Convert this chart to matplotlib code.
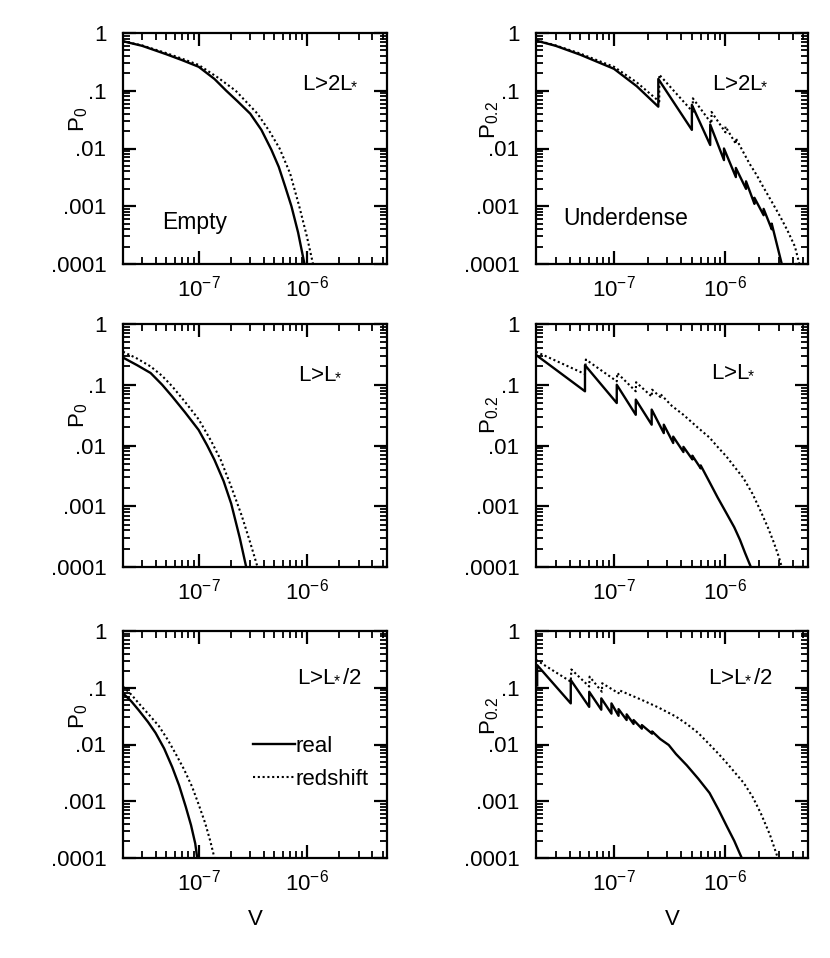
import matplotlib
matplotlib.use('Agg')
import matplotlib.pyplot as plt
from matplotlib.ticker import LogLocator, NullFormatter
import numpy as np

plt.rcParams['font.family'] = ['Liberation Sans', 'DejaVu Sans']
plt.rcParams['mathtext.fontset'] = 'custom'
plt.rcParams['mathtext.rm'] = 'Liberation Sans'
plt.rcParams['mathtext.it'] = 'Liberation Sans:italic'
plt.rcParams['mathtext.bf'] = 'Liberation Sans:bold'

# ---- данные ----
# Empty, L>2L*
v_e1_real = [2e-8, 3e-8, 5e-8, 7e-8, 1e-7, 1.4e-7, 1.8e-7, 2.3e-7, 3e-7, 3.8e-7, 4.7e-7,
             5.5e-7, 6.3e-7, 7.2e-7, 8.3e-7, 9.5e-7]
p_e1_real = [0.72, 0.6, 0.43, 0.34, 0.26, 0.16, 0.1, 0.065, 0.04, 0.021, 0.0095,
             0.0048, 0.0022, 0.001, 0.00035, 0.0001]
v_e1_red = [2e-8, 3e-8, 5e-8, 7e-8, 1e-7, 1.5e-7, 2.2e-7, 3.5e-7, 4.5e-7, 5.6e-7, 7e-7,
            8.5e-7, 1e-6, 1.14e-6]
p_e1_red = [0.72, 0.61, 0.45, 0.36, 0.28, 0.17, 0.1, 0.04, 0.02, 0.01, 0.0037,
            0.001, 0.0003, 0.0001]

# Empty, L>L*
v_e2_real = [2e-8, 2.7e-8, 3.6e-8, 4.6e-8, 5.7e-8, 7.5e-8, 1e-7, 1.2e-7, 1.4e-7, 1.7e-7,
             2e-7, 2.4e-7, 2.75e-7]
p_e2_real = [0.28, 0.21, 0.156, 0.1, 0.064, 0.035, 0.018, 0.01, 0.0058, 0.0026,
             0.0011, 0.0003, 0.0001]
v_e2_red = [2e-8, 2.7e-8, 3.6e-8, 4.6e-8, 5.7e-8, 7.5e-8, 1e-7, 1.3e-7, 1.6e-7, 2e-7,
            2.5e-7, 3e-7, 3.5e-7]
p_e2_red = [0.35, 0.27, 0.2, 0.14, 0.094, 0.052, 0.027, 0.012, 0.0058, 0.0021,
            0.0007, 0.00025, 0.0001]

# Empty, L>L*/2
v_e3_real = [2e-8, 2.4e-8, 2.8e-8, 3.4e-8, 4e-8, 4.8e-8, 5.7e-8, 6.6e-8, 7.6e-8, 8.5e-8,
             9.3e-8, 9.7e-8]
p_e3_real = [0.08, 0.057, 0.04, 0.025, 0.016, 0.0085, 0.004, 0.0019, 0.0008, 0.00038,
             0.00018, 0.0001]
v_e3_red = [2e-8, 2.4e-8, 2.8e-8, 3.5e-8, 4.3e-8, 5.2e-8, 6.1e-8, 7.3e-8, 8.7e-8, 1e-7,
            1.15e-7, 1.28e-7, 1.4e-7]
p_e3_red = [0.105, 0.075, 0.053, 0.033, 0.021, 0.012, 0.007, 0.0037, 0.0018, 0.00088,
            0.00041, 0.0002, 0.0001]

# Underdense, L>2L*
v_u1_real = [2e-8, 3e-8, 5e-8, 7e-8, 1e-7, 1.6e-7, 2.5e-7, 2.5e-7, 5.0e-7, 5.0e-7, 7.3e-7, 7.3e-7,
             9.7e-7, 9.7e-7, 1.24e-6, 1.24e-6, 1.53e-6, 1.53e-6, 1.82e-6, 1.82e-6,
             2.2e-6, 2.2e-6, 2.6e-6, 2.6e-6, 3.2e-6]
p_u1_real = [0.74, 0.6, 0.42, 0.32, 0.24, 0.12, 0.053, 0.16, 0.021, 0.057, 0.0115, 0.026,
             0.0063, 0.010, 0.0032, 0.0046, 0.002, 0.0027, 0.0011, 0.0014,
             0.0007, 0.0009, 0.0004, 0.0005, 0.0001]
v_u1_red = [2e-8, 3e-8, 5e-8, 7e-8, 1e-7, 1.6e-7, 2.55e-7, 2.55e-7, 5.1e-7, 5.1e-7, 7.5e-7, 7.5e-7,
            1e-6, 1e-6, 1.24e-6, 1.24e-6, 1.64e-6, 1.9e-6, 2.17e-6, 2.6e-6, 3.1e-6, 3.6e-6,
            4.2e-6, 4.6e-6]
p_u1_red = [0.75, 0.61, 0.44, 0.34, 0.26, 0.14, 0.065, 0.19, 0.043, 0.074, 0.027, 0.043,
            0.019, 0.024, 0.012, 0.015, 0.0055, 0.0035, 0.0022, 0.0012, 0.00066, 0.00038,
            0.0002, 0.0001]

# Underdense, L>L*
v_u2_real = [2e-8, 5.5e-8, 5.5e-8, 1.06e-7, 1.06e-7, 1.57e-7, 1.57e-7, 2.18e-7, 2.18e-7,
             2.8e-7, 2.8e-7, 3.4e-7, 3.4e-7, 4.2e-7, 4.2e-7, 5.05e-7, 5.05e-7, 6e-7, 6e-7,
             7.2e-7, 8.5e-7, 1.02e-6, 1.2e-6, 1.35e-6, 1.5e-6, 1.69e-6]
p_u2_real = [0.31, 0.078, 0.21, 0.05, 0.10, 0.032, 0.057, 0.022, 0.039,
             0.016, 0.022, 0.011, 0.014, 0.0078, 0.0095, 0.0059, 0.0068, 0.0042, 0.0047,
             0.0025, 0.0014, 0.00077, 0.00045, 0.00028, 0.00017, 0.0001]
v_u2_red = [2e-8, 5.5e-8, 5.6e-8, 1.06e-7, 1.07e-7, 1.57e-7, 1.58e-7, 2.18e-7, 2.2e-7,
            2.6e-7, 2.62e-7, 3.3e-7, 4.2e-7, 5.6e-7, 7.2e-7, 8.5e-7, 1.02e-6, 1.2e-6,
            1.45e-6, 1.75e-6, 2.04e-6, 2.4e-6, 2.7e-6, 3.0e-6, 3.2e-6]
p_u2_red = [0.35, 0.15, 0.26, 0.114, 0.156, 0.078, 0.11, 0.064, 0.083,
            0.063, 0.07, 0.045, 0.032, 0.02, 0.0135, 0.0095, 0.0066, 0.0045,
            0.0029, 0.0016, 0.00088, 0.00045, 0.00026, 0.00015, 0.0001]

# Underdense, L>L*/2
v_u3_real = [2.05e-8, 2.05e-8, 4.1e-8, 4.1e-8, 6.0e-8, 6.0e-8, 7.7e-8, 7.7e-8, 9.5e-8, 9.5e-8,
             1.1e-7, 1.1e-7, 1.3e-7, 1.3e-7, 1.5e-7, 1.5e-7, 1.78e-7, 1.78e-7, 2.2e-7, 2.2e-7,
             2.6e-7, 3.1e-7, 3.6e-7, 4.5e-7, 5.7e-7, 7.2e-7, 8.7e-7, 1.03e-6, 1.2e-6, 1.4e-6]
p_u3_real = [0.11, 0.25, 0.053, 0.137, 0.046, 0.085, 0.041, 0.065, 0.035, 0.053,
             0.032, 0.042, 0.027, 0.034, 0.023, 0.027, 0.019, 0.022, 0.0155, 0.017,
             0.0125, 0.0098, 0.0068, 0.0043, 0.0025, 0.0014, 0.0007, 0.00036, 0.0002, 0.0001]
v_u3_red = [2e-8, 4.1e-8, 4.15e-8, 6.0e-8, 6.05e-8, 7.8e-8, 7.85e-8, 1.1e-7, 1.12e-7, 1.78e-7,
            2.5e-7, 3.6e-7, 4.5e-7, 5.7e-7, 7.2e-7, 8.7e-7, 1.03e-6, 1.25e-6, 1.46e-6,
            1.75e-6, 2.07e-6, 2.5e-6, 2.95e-6]
p_u3_red = [0.31, 0.128, 0.21, 0.105, 0.157, 0.085, 0.12, 0.08, 0.09, 0.061,
            0.045, 0.031, 0.023, 0.016, 0.01, 0.0068, 0.0047, 0.003, 0.0021,
            0.0012, 0.00062, 0.00026, 0.0001]

panel_labels = [r'L>2L$_{\!\!*}$', r'L>L$_{\!\!*}$', r'L>L$_{\!\!*}$/2']
y_ticks = [1e-4, 1e-3, 1e-2, 1e-1, 1]
y_tick_labels = ['.0001', '.001', '.01', '.1', '1']
x_ticks = [1e-7, 1e-6]
x_tick_labels = [r'$10^{-7}$', r'$10^{-6}$']

left_data = [(v_e1_real, p_e1_real, v_e1_red, p_e1_red),
             (v_e2_real, p_e2_real, v_e2_red, p_e2_red),
             (v_e3_real, p_e3_real, v_e3_red, p_e3_red)]
right_data = [(v_u1_real, p_u1_real, v_u1_red, p_u1_red),
              (v_u2_real, p_u2_real, v_u2_red, p_u2_red),
              (v_u3_real, p_u3_real, v_u3_red, p_u3_red)]

W, H = 830, 958
# положение осей в пикселях (верх, низ) для трёх рядов
rows_px = [(33, 264), (324, 567), (631, 858)]
cols_px = [(123, 387), (536, 808)]


def setup_axes(ax):
    ax.set_xscale('log')
    ax.set_yscale('log')
    ax.set_xlim(2e-8, 5.5e-6)
    ax.set_ylim(1e-4, 1)
    ax.set_xticks(x_ticks)
    ax.set_xticklabels(x_tick_labels)
    ax.set_yticks(y_ticks)
    ax.set_yticklabels(y_tick_labels)
    ax.xaxis.set_minor_locator(LogLocator(base=10, subs=np.arange(2, 10), numticks=20))
    ax.yaxis.set_minor_locator(LogLocator(base=10, subs=np.arange(2, 10), numticks=20))
    ax.xaxis.set_minor_formatter(NullFormatter())
    ax.yaxis.set_minor_formatter(NullFormatter())
    ax.tick_params(which='both', direction='in', top=True, right=True, labelsize=16)
    ax.tick_params(which='major', length=9.5, width=1.6)
    ax.tick_params(which='minor', length=5, width=1.3)
    ax.tick_params(axis='x', which='major', pad=8)
    ax.tick_params(axis='y', which='major', pad=12)
    for sp in ax.spines.values():
        sp.set_linewidth(1.6)


def create_plots():
    fig = plt.figure(figsize=(W / 100, H / 100), dpi=100)
    axes = []
    for r, (top, bot) in enumerate(rows_px):
        for c, (lft, rgt) in enumerate(cols_px):
            rect = [lft / W, 1 - bot / H, (rgt - lft) / W, (bot - top) / H]
            ax = fig.add_axes(rect)
            setup_axes(ax)
            data = left_data[r] if c == 0 else right_data[r]
            v_real, p_real, v_red, p_red = data
            ax.plot(v_real, p_real, color='black', linewidth=1.7, label='real')
            ax.plot(v_red, p_red, color='black', linewidth=1.5,
                    linestyle=(0, (1, 1.3)), label='redshift')
            ax.set_ylabel(r'P$_0$' if c == 0 else r'P$_{0.2}$', fontsize=16)
            # подпись оси Y стоит между метками .1 и .01, как в оригинале
            ax.yaxis.set_label_coords(-0.125 if c == 0 else -0.13, 0.625)
            if r == 2:
                ax.set_xlabel('V', fontsize=16, labelpad=10)
            axes.append(ax)

    # подписи панелей
    lab_pos = [(0.89, 0.79), (0.855, 0.79), (0.83, 0.80), (0.805, 0.81), (0.905, 0.806), (0.87, 0.806)]
    for i, ax in enumerate(axes):
        x, y = lab_pos[i]
        ax.text(x, y, panel_labels[i // 2], transform=ax.transAxes,
                ha='right', va='center', fontsize=16)

    axes[0].text(0.15, 0.18, 'Empty', transform=axes[0].transAxes,
                 ha='left', va='center', fontsize=16.5)
    axes[1].text(0.10, 0.195, 'Underdense', transform=axes[1].transAxes,
                 ha='left', va='center', fontsize=16.5)

    axes[4].legend(loc='center left', bbox_to_anchor=(0.45, 0.42), frameon=False,
                   fontsize=16, handlelength=1.9, handletextpad=0.0,
                   labelspacing=0.55, borderpad=0)

    fig.savefig('out.png', dpi=100)


if __name__ == '__main__':
    create_plots()
